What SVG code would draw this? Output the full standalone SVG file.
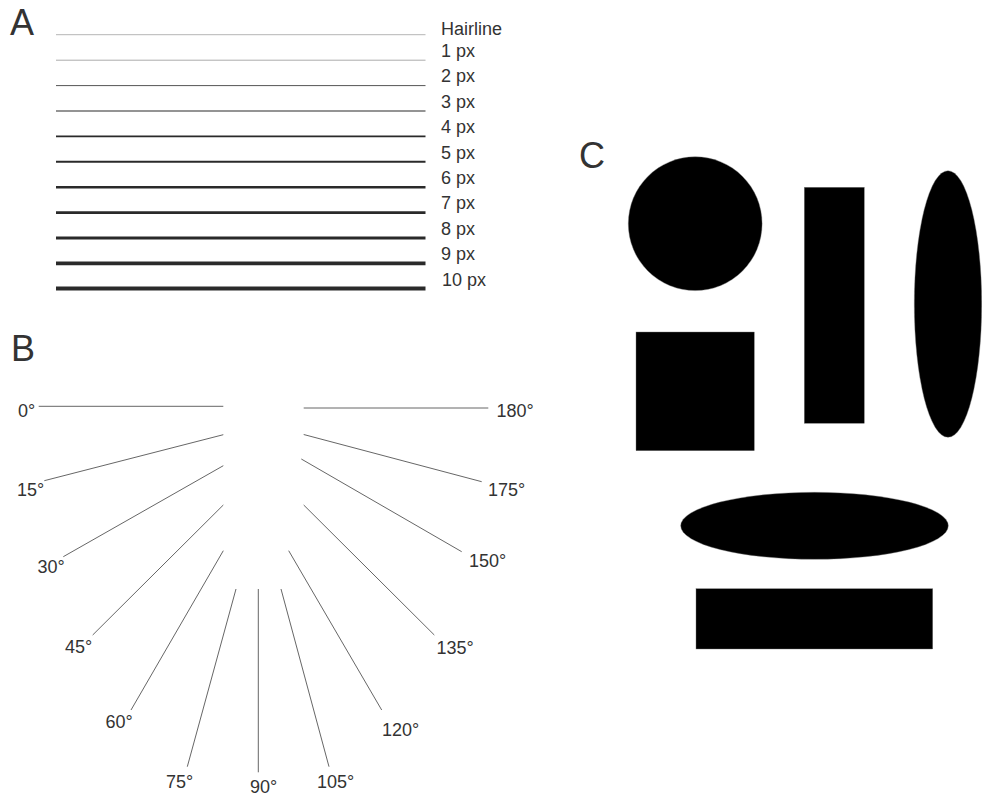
<svg xmlns="http://www.w3.org/2000/svg" width="982" height="800" viewBox="0 0 982 800">
<style>
text{font-family:"Liberation Sans",Arial,sans-serif;fill:#333}
.big{font-size:36px}
.lbl{font-size:18px}
.w{stroke:#2a2a2a;fill:none}
.ang{stroke:#555;stroke-width:0.9;fill:none}
.shape{fill:#000;stroke:#777;stroke-width:0.4}
</style>
<rect width="982" height="800" fill="#fff"/>
<g id="panelA">
<text class="big" x="10" y="34.7">A</text>
<g id="widths">
<line class="w" x1="56" y1="34.7" x2="425.5" y2="34.7" stroke-width="0.35"/>
<line class="w" x1="56" y1="60.2" x2="425.5" y2="60.2" stroke-width="0.4"/>
<line class="w" x1="56" y1="85.6" x2="425.5" y2="85.6" stroke-width="0.8"/>
<line class="w" x1="56" y1="111" x2="425.5" y2="111" stroke-width="1.2"/>
<line class="w" x1="56" y1="136.4" x2="425.5" y2="136.4" stroke-width="1.6"/>
<line class="w" x1="56" y1="161.8" x2="425.5" y2="161.8" stroke-width="2"/>
<line class="w" x1="56" y1="187.2" x2="425.5" y2="187.2" stroke-width="2.4"/>
<line class="w" x1="56" y1="212.6" x2="425.5" y2="212.6" stroke-width="2.8"/>
<line class="w" x1="56" y1="238" x2="425.5" y2="238" stroke-width="3.2"/>
<line class="w" x1="56" y1="263.4" x2="425.5" y2="263.4" stroke-width="3.6"/>
<line class="w" x1="56" y1="288.6" x2="425.5" y2="288.6" stroke-width="4"/>
</g>
<g id="widthLabels">
<text class="lbl" x="441" y="35">Hairline</text>
<text class="lbl" x="441" y="57.2">1 px</text>
<text class="lbl" x="441" y="82.4">2 px</text>
<text class="lbl" x="441" y="107.8">3 px</text>
<text class="lbl" x="441" y="133.2">4 px</text>
<text class="lbl" x="441" y="158.6">5 px</text>
<text class="lbl" x="441" y="184">6 px</text>
<text class="lbl" x="441" y="209.4">7 px</text>
<text class="lbl" x="441" y="234.8">8 px</text>
<text class="lbl" x="441" y="260.2">9 px</text>
<text class="lbl" x="442" y="285.6">10 px</text>
</g>
</g>
<g id="panelB">
<text class="big" x="11" y="361">B</text>
<g id="angleLines">
<line class="ang" x1="223.3" y1="406.3" x2="38.7" y2="406.3"/>
<line class="ang" x1="223.3" y1="434.7" x2="44.3" y2="480.7"/>
<line class="ang" x1="223.3" y1="465.7" x2="63.3" y2="556.7"/>
<line class="ang" x1="223.3" y1="505" x2="92.7" y2="635"/>
<line class="ang" x1="223.3" y1="550.7" x2="131" y2="710"/>
<line class="ang" x1="236" y1="589" x2="187.3" y2="766.7"/>
<line class="ang" x1="258.3" y1="589" x2="258.3" y2="772.3"/>
<line class="ang" x1="281" y1="589" x2="329" y2="766.7"/>
<line class="ang" x1="288.7" y1="550.7" x2="381.7" y2="710"/>
<line class="ang" x1="303.7" y1="505" x2="434.3" y2="635"/>
<line class="ang" x1="301.3" y1="459" x2="461.7" y2="551.7"/>
<line class="ang" x1="303.7" y1="434.5" x2="481.7" y2="481.7"/>
<line class="ang" x1="303.7" y1="408" x2="488.3" y2="408"/>
</g>
<g id="angleLabels">
<text class="lbl" x="18" y="416.7">0°</text>
<text class="lbl" x="17" y="495.7">15°</text>
<text class="lbl" x="37.5" y="573.3">30°</text>
<text class="lbl" x="65" y="653.3">45°</text>
<text class="lbl" x="105.5" y="728.3">60°</text>
<text class="lbl" x="166" y="788.3">75°</text>
<text class="lbl" x="250" y="793.3">90°</text>
<text class="lbl" x="317" y="788.3">105°</text>
<text class="lbl" x="382" y="735.7">120°</text>
<text class="lbl" x="436.5" y="654">135°</text>
<text class="lbl" x="469" y="566.7">150°</text>
<text class="lbl" x="488" y="495.7">175°</text>
<text class="lbl" x="496.5" y="417.3">180°</text>
</g>
</g>
<g id="panelC">
<text class="big" x="579" y="168.3">C</text>
<circle id="circle" class="shape" cx="695.2" cy="223.7" r="66.9"/>
<rect id="square" class="shape" x="636" y="332" width="118.3" height="118.7"/>
<rect id="tallRect" class="shape" x="804.3" y="187.3" width="60" height="236"/>
<ellipse id="tallEllipse" class="shape" cx="948" cy="304" rx="33.7" ry="133.3"/>
<ellipse id="wideEllipse" class="shape" cx="814.5" cy="525.8" rx="133.8" ry="33.5"/>
<rect id="wideRect" class="shape" x="696" y="588.7" width="236.7" height="60.3"/>
</g>
</svg>
